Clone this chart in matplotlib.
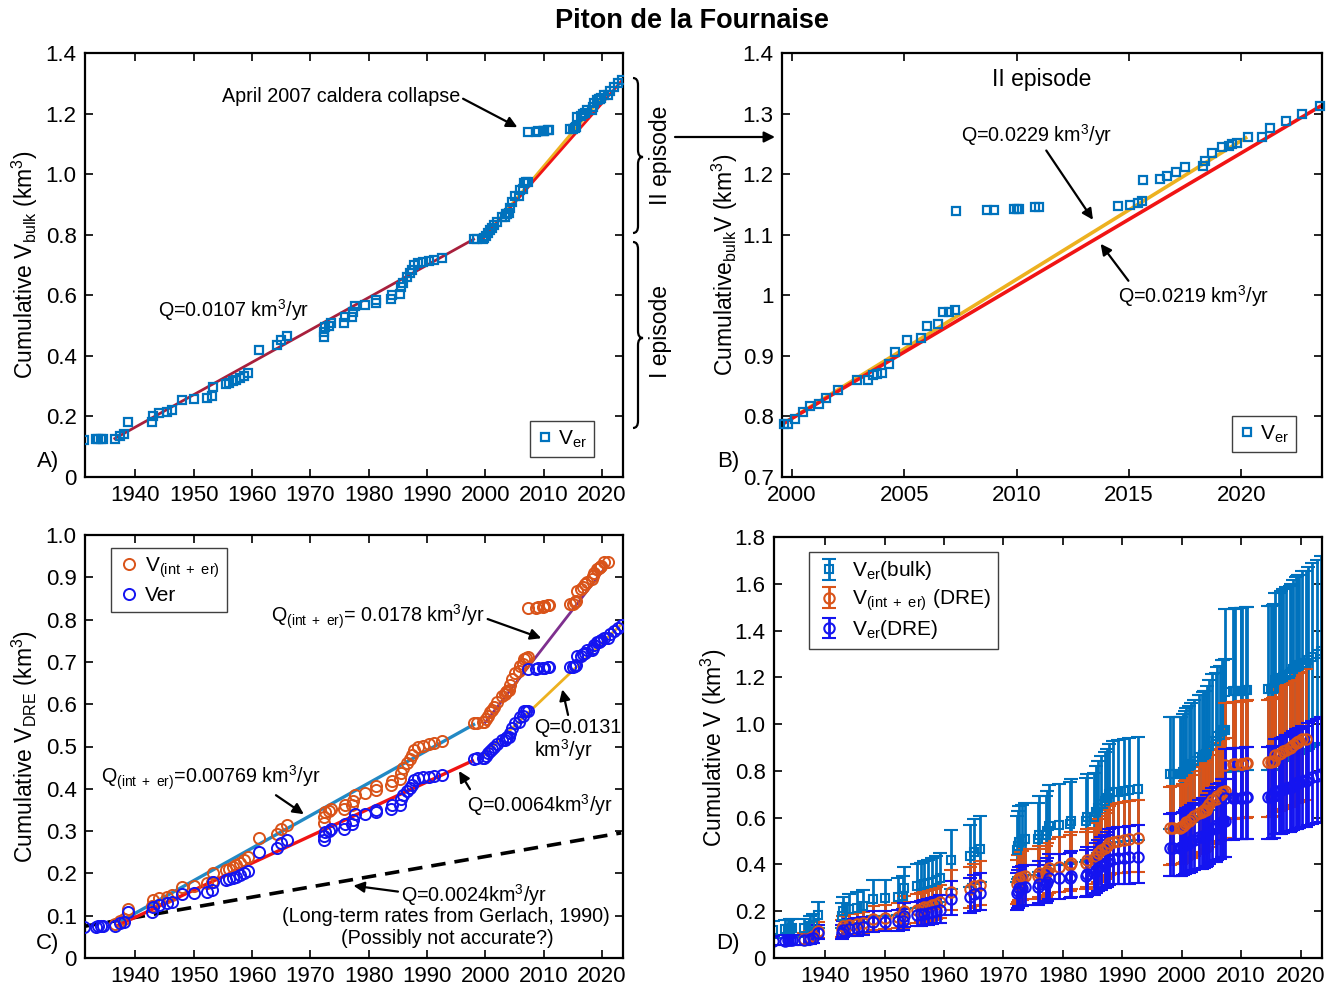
import numpy as np
import matplotlib
matplotlib.use("Agg")
import matplotlib.pyplot as plt
from matplotlib.path import Path
from matplotlib.patches import PathPatch, FancyArrowPatch
from matplotlib.ticker import FuncFormatter, MultipleLocator

plt.rcParams['font.family'] = ['Liberation Sans', 'DejaVu Sans']
plt.rcParams['mathtext.fontset'] = 'custom'
plt.rcParams['mathtext.rm'] = 'Liberation Sans'
plt.rcParams['mathtext.it'] = 'Liberation Sans:italic'
plt.rcParams['mathtext.bf'] = 'Liberation Sans:bold'

nan = np.nan

# ---------------- data ----------------
years = [1931.3, 1933.2, 1933.7, 1934.1, 1934.5, 1936.5, 1937.4, 1938.0, 1938.8,
         1942.8, 1943.0, 1944.1, 1945.4, 1946.3, 1948.1, 1950.1, 1952.3, 1953.1,
         1953.3, 1955.5, 1956.1, 1956.7, 1957.3, 1958.0, 1958.6, 1959.4, 1961.2,
         1964.3, 1965.0, 1966.1, 1972.3, 1972.4, 1972.6, 1973.2, 1973.6, 1975.8,
         1976.0, 1977.1, 1977.4, 1977.7, 1979.4, 1981.2, 1981.3, 1983.9, 1984.0,
         1985.3, 1985.6, 1985.9, 1986.5, 1987.1, 1987.4, 1987.8, 1988.4, 1989.3,
         1990.3, 1991.2, 1992.6, 1998.0, 1998.6, 1999.65, 1999.8, 2000.15, 2000.5,
         2000.8, 2001.2, 2001.5, 2002.05, 2002.9, 2003.4, 2003.6, 2003.8, 2004.0,
         2004.3, 2004.6, 2005.1, 2005.75, 2006.0, 2006.5, 2006.7, 2007.0, 2007.25,
         2007.3, 2008.7, 2009.0, 2009.9, 2010.0, 2010.1, 2010.8, 2011.0, 2014.5,
         2015.07, 2015.4, 2015.6, 2015.65, 2016.4, 2016.7, 2017.1, 2017.5, 2018.3,
         2018.4, 2018.7, 2019.15, 2019.45, 2019.6, 2019.8, 2020.3, 2020.95, 2021.3,
         2022.0, 2022.7, 2023.5]

v_bulk = [0.121, 0.124, 0.125, 0.126, 0.127, 0.127, 0.137, 0.143, 0.182,
          0.181, 0.200, 0.210, 0.215, 0.222, 0.254, 0.256, 0.262, 0.267,
          0.298, 0.306, 0.310, 0.316, 0.320, 0.326, 0.334, 0.342, 0.419,
          0.435, 0.454, 0.465, 0.463, 0.480, 0.496, 0.500, 0.507, 0.507,
          0.528, 0.528, 0.545, 0.566, 0.568, 0.573, 0.584, 0.587, 0.601,
          0.604, 0.626, 0.642, 0.659, 0.672, 0.683, 0.700, 0.708, 0.711,
          0.714, 0.717, 0.722, 0.785, 0.786, 0.787, 0.788, 0.796, 0.807,
          0.817, 0.821, 0.831, 0.843, 0.860, 0.860, 0.868, 0.870, 0.871,
          0.887, 0.907, 0.927, 0.929, 0.949, 0.952, 0.972, 0.973, 0.975,
          1.139, 1.140, 1.141, 1.142, 1.142, 1.142, 1.146, 1.146, 1.148,
          1.149, 1.152, 1.155, 1.190, 1.192, 1.197, 1.203, 1.211, 1.213,
          1.221, 1.235, 1.245, 1.247, 1.249, 1.251, 1.262, 1.262, 1.276,
          1.288, 1.300, 1.312]

v_er_dre = [0.073, 0.074, 0.075, 0.076, 0.076, 0.076, 0.082, 0.086, 0.109,
            0.109, 0.120, 0.126, 0.129, 0.133, 0.152, 0.154, 0.157, 0.160,
            0.179, 0.184, 0.186, 0.190, 0.192, 0.196, 0.200, 0.205, 0.251,
            0.261, 0.272, 0.279, 0.278, 0.288, 0.298, 0.300, 0.304, 0.304,
            0.317, 0.317, 0.327, 0.340, 0.341, 0.344, 0.350, 0.352, 0.361,
            0.362, 0.376, 0.385, 0.395, 0.403, 0.410, 0.420, 0.425, 0.427,
            0.428, 0.430, 0.433, 0.471, 0.472, 0.472, 0.473, 0.478, 0.484,
            0.490, 0.493, 0.499, 0.506, 0.516, 0.516, 0.521, 0.522, 0.523,
            0.532, 0.544, 0.556, 0.557, 0.569, 0.571, 0.583, 0.584, 0.585,
            0.683, 0.684, 0.685, 0.685, 0.685, 0.685, 0.688, 0.688, 0.689,
            0.689, 0.691, 0.693, 0.714, 0.715, 0.718, 0.722, 0.727, 0.728,
            0.733, 0.741, 0.747, 0.748, 0.749, 0.751, 0.757, 0.757, 0.766,
            0.773, 0.780, 0.787]

v_int_er = [nan, nan, nan, nan, nan, 0.080, 0.087, 0.092, 0.116,
            0.124, 0.136, 0.142, 0.145, 0.149, 0.168, 0.171, 0.177, 0.180,
            0.200, 0.207, 0.211, 0.216, 0.220, 0.225, 0.231, 0.238, 0.284,
            0.294, 0.306, 0.314, 0.318, 0.333, 0.344, 0.347, 0.352, 0.352,
            0.362, 0.362, 0.372, 0.385, 0.391, 0.397, 0.407, 0.408, 0.419,
            0.422, 0.438, 0.449, 0.461, 0.471, 0.480, 0.491, 0.498, 0.502,
            0.505, 0.508, 0.513, 0.555, 0.556, 0.557, 0.558, 0.565, 0.573,
            0.581, 0.586, 0.594, 0.605, 0.620, 0.623, 0.629, 0.632, 0.634,
            0.645, 0.659, 0.674, 0.678, 0.691, 0.695, 0.708, 0.710, 0.712,
            0.827, 0.828, 0.829, 0.830, 0.831, 0.831, 0.834, 0.835, 0.836,
            0.838, 0.841, 0.844, 0.867, 0.872, 0.877, 0.883, 0.890, 0.896,
            0.902, 0.911, 0.920, 0.922, 0.924, 0.927, 0.935, 0.937, nan,
            nan, nan, nan]

# relative uncertainties (lower, upper) used for the error bars of panel D
err_bulk = (0.30, 0.31)
err_int_er = (0.28, 0.32)
err_er_dre = (0.26, 0.31)

# linear fits: (start year, end year, start value, rate km3/yr)
fit_A_ep1 = (1936.5, 1998.0, 0.127, 0.0107)
fit_A_ep2_red = (1999.5, 2023.5, 0.785, 0.0219)
fit_A_ep2_yel = (1999.5, 2020.3, 0.785, 0.0229)
fit_B_red = (1999.55, 2023.5, 0.787, 0.0219)
fit_B_yel = (1999.55, 2020.2, 0.787, 0.0229)
fit_C_int1 = (1937.3, 1998.0, 0.085, 0.00769)
fit_C_er1 = (1937.0, 1997.8, 0.077, 0.0064)
fit_C_int2 = (2000.0, 2020.8, 0.557, 0.0178)
fit_C_er2 = (1999.3, 2023.3, 0.474, 0.0131)
fit_C_gerlach = (1931.3, 2023.3, 0.075, 0.0024)

years = np.array(years)
v_bulk = np.array(v_bulk)
v_er_dre = np.array(v_er_dre)
v_int_er = np.array(v_int_er)

# ---------------- styling ----------------
C_BULK = '#0072BD'
C_INT = '#D95319'
C_ER = '#1414F0'
C_RED = '#F01414'
C_DARKRED = '#A8203C'
C_YEL = '#EDB120'
C_TEAL = '#2389C4'
C_PURPLE = '#7E2F8E'

W, H = 1326, 990
fig = plt.figure(figsize=(W / 100, H / 100), dpi=100)


def box(l, r, t, b):
    return [l / W, 1 - b / H, (r - l) / W, (b - t) / H]


def fp(x, y):
    return (x / W, 1 - y / H)


def fit_line(ax, fit, color, lw=2.0, **kw):
    t0, t1, v0, q = fit
    t = np.array([t0, t1])
    ax.plot(t, v0 + q * (t - t0), color=color, lw=lw, **kw)


def style(ax, xlim, ylim, ystep, xticks, yfmt):
    ax.set_xlim(*xlim)
    ax.set_ylim(*ylim)
    ax.set_xticks(xticks)
    ax.yaxis.set_major_locator(MultipleLocator(ystep))
    ax.yaxis.set_major_formatter(FuncFormatter(yfmt))
    ax.tick_params(direction='in', top=True, right=True, length=6, width=1.2,
                   labelsize=16, pad=6)
    for s in ax.spines.values():
        s.set_linewidth(1.6)


fmt1 = lambda v, p: '0' if abs(v) < 1e-9 else f'{v:.1f}'
fmtg = lambda v, p: f'{round(v, 2):g}'
dec_ticks = np.arange(1940, 2021, 10)
XL = (1931.4, 2023.6)

ann = dict(arrowstyle='-|>', color='k', lw=1.6, mutation_scale=16,
           shrinkA=0, shrinkB=0)
TXT = 14.2
LBL = 16.5

# ---------------- Panel A ----------------
axA = fig.add_axes(box(85, 623, 53, 477))
fit_line(axA, fit_A_ep1, C_DARKRED, lw=2.0)
fit_line(axA, fit_A_ep2_yel, C_YEL, lw=2.2)
fit_line(axA, fit_A_ep2_red, C_RED, lw=2.0)
axA.plot(years, v_bulk, 's', ms=6, mfc='none', mec=C_BULK, mew=1.6,
         label=r'V$_{\rm er}$', zorder=3)
style(axA, XL, (0, 1.4), 0.2, dec_ticks, fmt1)
axA.set_ylabel(r'Cumulative V$_{\rm bulk}$ (km$^3$)', fontsize=LBL, labelpad=4)
axA.annotate('April 2007 caldera collapse', xy=(2005.5, 1.155),
             xytext=(1975.3, 1.257), ha='center', va='center', fontsize=TXT,
             arrowprops=dict(ann, relpos=(1.0, 0.45)))
axA.text(1956.8, 0.551, r'Q=0.0107 km$^3$/yr', ha='center', va='center',
         fontsize=TXT)
axA.legend(loc='lower right', bbox_to_anchor=(0.946, 0.047), borderaxespad=0,
           fancybox=False, edgecolor='0.25', fontsize=15, handletextpad=0.2,
           handlelength=0.8, borderpad=0.35, framealpha=1)

# braces + episode labels (outside panel A)
def brace(x, yt, yb, ym, w=10, r=7):
    pts = [(x, yt), (x + w / 2, yt), (x + w / 2, yt + r),
           (x + w / 2, ym - r),
           (x + w / 2, ym), (x + w, ym),
           (x + w / 2, ym), (x + w / 2, ym + r),
           (x + w / 2, yb - r),
           (x + w / 2, yb), (x, yb)]
    codes = [Path.MOVETO, Path.CURVE3, Path.CURVE3, Path.LINETO,
             Path.CURVE3, Path.CURVE3, Path.CURVE3, Path.CURVE3,
             Path.LINETO, Path.CURVE3, Path.CURVE3]
    verts = [fp(px, py) for px, py in pts]
    fig.add_artist(PathPatch(Path(verts, codes), transform=fig.transFigure,
                             fill=False, lw=1.6, color='k'))

brace(633, 78, 233, 157)
brace(633, 242, 428, 338)
fig.text(*fp(661, 155), 'II episode', rotation=90, ha='center', va='center',
         fontsize=LBL)
fig.text(*fp(661, 331), 'I episode', rotation=90, ha='center', va='center',
         fontsize=LBL)
fig.add_artist(FancyArrowPatch(fp(675, 137), fp(775, 137),
                               transform=fig.transFigure, **ann))

# ---------------- Panel B ----------------
axB = fig.add_axes(box(782, 1322, 53, 477))
fit_line(axB, fit_B_yel, C_YEL, lw=2.6)
fit_line(axB, fit_B_red, C_RED, lw=2.6)
mB = years >= 1999.5
axB.plot(years[mB], v_bulk[mB], 's', ms=6, mfc='none', mec=C_BULK, mew=1.6,
         label=r'V$_{\rm er}$', zorder=3, clip_on=False)
style(axB, (1999.55, 2023.6), (0.7, 1.4), 0.1, np.arange(2000, 2021, 5), fmtg)
axB.set_ylabel(r'Cumulative$_{\rm bulk}$V (km$^3$)', fontsize=LBL, labelpad=2)
axB.text(2011.1, 1.357, 'II episode', ha='center', va='center', fontsize=LBL)
axB.annotate(r'Q=0.0229 km$^3$/yr', xy=(2013.4, 1.1246), xytext=(2010.9, 1.265),
             ha='center', va='center', fontsize=TXT,
             arrowprops=dict(ann, relpos=(0.55, 0.0)))
axB.annotate(r'Q=0.0219 km$^3$/yr', xy=(2013.74, 1.085), xytext=(2017.9, 0.998),
             ha='center', va='center', fontsize=TXT,
             arrowprops=dict(ann, relpos=(0.08, 1.0)))
axB.legend(loc='lower right', bbox_to_anchor=(0.952, 0.059), borderaxespad=0,
           fancybox=False, edgecolor='0.25', fontsize=15, handletextpad=0.2,
           handlelength=0.8, borderpad=0.35, framealpha=1)

# ---------------- Panel C ----------------
axC = fig.add_axes(box(85, 623, 535, 958))
fit_line(axC, fit_C_gerlach, 'k', lw=2.6, ls=(0, (4, 2.5)))
fit_line(axC, fit_C_int1, C_TEAL, lw=2.4)
fit_line(axC, fit_C_er1, C_RED, lw=2.4)
fit_line(axC, fit_C_int2, C_PURPLE, lw=2.0)
fit_line(axC, fit_C_er2, C_YEL, lw=2.0)
mI = ~np.isnan(v_int_er)
axC.plot(years[mI], v_int_er[mI], 'o', ms=8, mfc='none', mec=C_INT, mew=1.4,
         label=r'V$_{\rm (int\ +\ er)}$', zorder=3)
axC.plot(years, v_er_dre, 'o', ms=8, mfc='none', mec=C_ER, mew=1.4,
         label='Ver', zorder=3)
style(axC, XL, (0, 1.0), 0.1, dec_ticks, fmt1)
axC.set_ylabel(r'Cumulative V$_{\rm DRE}$ (km$^3$)', fontsize=LBL, labelpad=4)
axC.annotate(r'Q$_{\rm (int\ +\ er)}$= 0.0178 km$^3$/yr', xy=(2009.6, 0.756),
             xytext=(1981.6, 0.807), ha='center', va='center', fontsize=TXT,
             arrowprops=dict(ann, relpos=(1.0, 0.45)))
axC.annotate('Q=0.0131\n' + r'km$^3$/yr', xy=(2013.2, 0.635),
             xytext=(2008.3, 0.515), ha='left', va='center', fontsize=TXT,
             linespacing=1.0, arrowprops=dict(ann, relpos=(0.4, 1.0)))
axC.annotate(r'Q$_{\rm (int\ +\ er)}$=0.00769 km$^3$/yr', xy=(1968.9, 0.34),
             xytext=(1952.9, 0.425), ha='center', va='center', fontsize=TXT,
             arrowprops=dict(ann, relpos=(0.78, 0.0)))
axC.annotate(r'Q=0.0064km$^3$/yr', xy=(1995.5, 0.442), xytext=(2009.4, 0.362),
             ha='center', va='center', fontsize=TXT,
             arrowprops=dict(ann, relpos=(0.03, 1.0)))
axC.annotate(r'Q=0.0024km$^3$/yr', xy=(1977.4, 0.171), xytext=(1998.0, 0.15),
             ha='center', va='center', fontsize=TXT,
             arrowprops=dict(ann, relpos=(0.0, 0.6)))
axC.text(1993.3, 0.097, '(Long-term rates from Gerlach, 1990)', ha='center',
         va='center', fontsize=TXT)
axC.text(1993.5, 0.045, '(Possibly not accurate?)', ha='center', va='center',
         fontsize=TXT)
axC.legend(loc='upper left', bbox_to_anchor=(0.048, 0.969), borderaxespad=0,
           fancybox=False, edgecolor='0.25', fontsize=15, handletextpad=0.3,
           handlelength=1.0, borderpad=0.35, labelspacing=0.3, framealpha=1)

# ---------------- Panel D ----------------
axD = fig.add_axes(box(774, 1322, 537, 958))
ekw = dict(capsize=5, elinewidth=2.0, capthick=2.0, mfc='none', mew=1.5)
axD.errorbar(years, v_bulk, yerr=[v_bulk * err_bulk[0], v_bulk * err_bulk[1]],
             fmt='s', ms=6, color=C_BULK, label=r'V$_{\rm er}$(bulk)', **ekw)
yi, vi = years[mI], v_int_er[mI]
axD.errorbar(yi, vi, yerr=[vi * err_int_er[0], vi * err_int_er[1]],
             fmt='o', ms=7.5, color=C_INT,
             label=r'V$_{\rm (int\ +\ er)}$ (DRE)', **ekw)
axD.errorbar(years, v_er_dre,
             yerr=[v_er_dre * err_er_dre[0], v_er_dre * err_er_dre[1]],
             fmt='o', ms=7.5, color=C_ER, label=r'V$_{\rm er}$(DRE)', **ekw)
style(axD, XL, (0, 1.8), 0.2, dec_ticks, fmt1)
axD.set_ylabel(r'Cumulative V (km$^3$)', fontsize=LBL, labelpad=4)
axD.legend(loc='upper left', bbox_to_anchor=(0.064, 0.964), borderaxespad=0,
           fancybox=False, edgecolor='0.25', fontsize=15, handletextpad=0.5,
           handlelength=1.2, borderpad=0.35, labelspacing=0.25, framealpha=1)

# ---------------- panel letters & title ----------------
for lab, (x, y) in {'A)': (48, 461), 'B)': (728, 462),
                    'C)': (48, 944), 'D)': (728, 944)}.items():
    fig.text(*fp(x, y), lab, ha='center', va='center', fontsize=16)
fig.text(*fp(692, 21), 'Piton de la Fournaise', ha='center', va='center',
         fontsize=19.5, fontweight='bold')

fig.savefig('out.png', dpi=100)
